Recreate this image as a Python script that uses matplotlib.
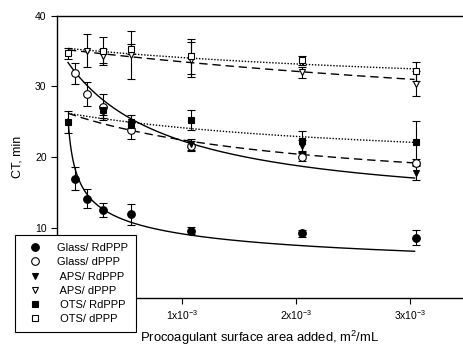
import numpy as np
import matplotlib.pyplot as plt
from matplotlib.lines import Line2D

plt.rcParams['font.family'] = ['Liberation Sans', 'DejaVu Sans']
plt.rcParams['mathtext.fontset'] = 'custom'
plt.rcParams['mathtext.rm'] = 'Liberation Sans'
plt.rcParams['mathtext.it'] = 'Liberation Sans:italic'

# surface area added, in units of 1e-3 m2/mL
glass_x = [0.06, 0.17, 0.31, 0.55, 1.08, 2.05, 3.05]
glass_rd_y = [16.95, 14.1, 12.45, 11.9, 9.55, 9.15, 8.55]
glass_rd_err = [1.7, 1.4, 1.0, 1.5, 0.5, 0.5, 1.05]
glass_d_y = [31.9, 28.9, 27.1, 23.8, 21.5, 20.0, 19.2]
glass_d_err = [1.5, 1.7, 1.8, 1.2, 0.7, 0.5, 0.5]

aps_rd_x = [0.31, 0.55, 1.08, 2.05, 3.05]
aps_rd_y = [26.4, 25.0, 21.8, 21.6, 17.8]
aps_rd_err = [0.9, 0.9, 0.8, 0.8, 1.1]
aps_d_x = [0.17, 0.31, 0.55, 1.08, 2.05, 3.05]
aps_d_y = [35.1, 34.3, 34.5, 33.8, 32.0, 30.4]
aps_d_err = [2.4, 1.0, 3.4, 2.5, 0.8, 1.8]

ots_x = [0.0, 0.31, 0.55, 1.08, 2.05, 3.05]
ots_rd_y = [25.0, 26.6, 24.5, 25.3, 22.2, 22.1]
ots_rd_err = [1.55, 0.7, 0.6, 1.4, 1.5, 3.0]
ots_d_y = [34.7, 35.0, 35.3, 34.3, 33.7, 32.15]
ots_d_err = [0.8, 2.0, 0.7, 2.5, 0.65, 1.35]

# fitted curves: y = y0 + a*b/(b+x), glass RdPPP: y = A*(x+c)^-p
glass_rd_fit = (9.18, 0.03, 0.29)
glass_d_fit = (12.0, 21.4, 0.93)
aps_rd_fit = (14.0, 12.2, 2.23)
aps_d_fit = (20.0, 15.2, 7.96)
ots_rd_fit = (18.0, 8.2, 3.0)
ots_d_fit = (28.0, 7.4, 4.72)

labels = ['Glass/ RdPPP', 'Glass/ dPPP', ' APS/ RdPPP', ' APS/ dPPP', ' OTS/ RdPPP', ' OTS/ dPPP']


def hyper(x, y0, a, b):
    return y0 + a * b / (b + x)


fig = plt.figure(figsize=(4.64, 3.46), dpi=100)
ax = fig.add_axes([57 / 464, 48 / 346, 413 / 464, 282 / 346])

xs = np.linspace(0, 3.04, 300)
A, c, p = glass_rd_fit
ax.plot(xs * 1e-3, A * (xs + c) ** -p, color='black', lw=1.0, ls='-')
ax.plot(xs * 1e-3, hyper(xs, *glass_d_fit), color='black', lw=1.0, ls='-')
ax.plot(xs * 1e-3, hyper(xs, *aps_rd_fit), color='black', lw=1.0, ls=(0, (6, 3.5)))
ax.plot(xs * 1e-3, hyper(xs, *aps_d_fit), color='black', lw=1.0, ls=(0, (6, 3.5)))
ax.plot(xs * 1e-3, hyper(xs, *ots_rd_fit), color='black', lw=1.0, ls=(0, (1, 1.2)))
ax.plot(xs * 1e-3, hyper(xs, *ots_d_fit), color='black', lw=1.0, ls=(0, (1, 1.2)))

series = [
    (glass_x, glass_rd_y, glass_rd_err, 'o', 'black'),
    (glass_x, glass_d_y, glass_d_err, 'o', 'white'),
    (aps_rd_x, aps_rd_y, aps_rd_err, 'v', 'black'),
    (aps_d_x, aps_d_y, aps_d_err, 'v', 'white'),
    (ots_x, ots_rd_y, ots_rd_err, 's', 'black'),
    (ots_x, ots_d_y, ots_d_err, 's', 'white'),
]
handles = []
for x, y, e, m, fc in series:
    ms = 5.5 if m == 'o' else 5
    ax.errorbar(np.array(x) * 1e-3, y, yerr=e, fmt=m, mfc=fc, mec='black', mew=0.8,
                ms=ms, ecolor='black', elinewidth=0.8, capsize=3, capthick=0.8, zorder=3)
    handles.append(Line2D([], [], marker=m, ls='none', mfc=fc, mec='black', mew=0.8, ms=ms))

ax.set_xlim(-0.0965e-3, 3.526e-3)
ax.set_ylim(0, 40)
ax.set_yticks([10, 20, 30, 40])
ax.set_xticks([1e-3, 2e-3, 3e-3])
ax.set_xticklabels(['1x10$^{-3}$', '2x10$^{-3}$', '3x10$^{-3}$'])
ax.tick_params(direction='out', length=4, width=0.8, labelsize=7.5, top=False, right=False)
for s in ax.spines.values():
    s.set_linewidth(1.0)

ax.set_ylabel('CT, min', fontsize=9)
ax.yaxis.set_label_coords(-0.082, 0.5)
ax.set_xlabel('Procoagulant surface area added, m$^2$/mL', fontsize=9.4)
ax.xaxis.set_label_coords(0.49, -0.108)

# legend sits over the lower-left corner of the axes
leg = fig.legend(handles, labels, loc='lower left', bbox_to_anchor=(15 / 464, 14 / 346),
                 fontsize=8, frameon=True, fancybox=False, edgecolor='black', framealpha=1,
                 borderaxespad=0, handletextpad=0.9, labelspacing=0.38, borderpad=0.7,
                 handlelength=2.2)
leg.get_frame().set_linewidth(0.8)

fig.savefig('out.png', dpi=100)
